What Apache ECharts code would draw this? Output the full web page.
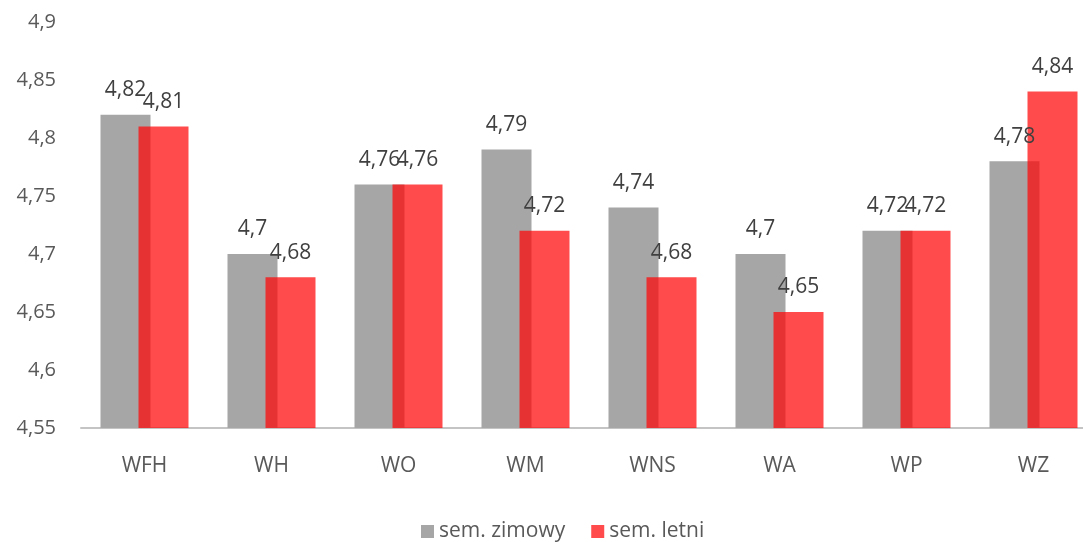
<!DOCTYPE html>
<html>
<head>
<meta charset="utf-8">
<script src="https://cdn.jsdelivr.net/npm/echarts@6/dist/echarts.min.js"></script>
<style>
html,body{margin:0;padding:0;background:#fff;}
#chart{width:1083px;height:542px;}
</style>
</head>
<body>
<div id="chart"></div>
<script>
const categories = ['WFH', 'WH', 'WO', 'WM', 'WNS', 'WA', 'WP', 'WZ'];
const seriesNames = ['sem. zimowy', 'sem. letni'];
const zimowy = [4.82, 4.70, 4.76, 4.79, 4.74, 4.70, 4.72, 4.78];
const letni = [4.81, 4.68, 4.76, 4.72, 4.68, 4.65, 4.72, 4.84];
const yTicks = { min: 4.55, max: 4.9, step: 0.05 };

const fmt = v => String(+Number(v).toFixed(2)).replace('.', ',');
const FONT = '"Open Sans", "Noto Sans", sans-serif';

const chart = echarts.init(document.getElementById('chart'), null, { renderer: 'canvas' });
const labelStyle = {
  show: true,
  position: 'top',
  distance: 14,
  color: '#404040',
  fontSize: 21,
  fontFamily: FONT,
  formatter: p => fmt(p.value)
};
chart.setOption({
  animation: false,
  backgroundColor: '#ffffff',
  grid: { left: 81, top: 22, width: 1016, bottom: 114, containLabel: false, outerBoundsMode: 'none' },
  legend: {
    data: seriesNames,
    left: 416,
    top: 516,
    itemWidth: 13,
    itemHeight: 13,
    itemGap: 26,
    icon: 'rect',
    textStyle: { color: '#595959', fontSize: 21, fontFamily: FONT, padding: [0, 0, 0, 0] }
  },
  xAxis: {
    type: 'category',
    data: categories,
    axisLine: { show: true, lineStyle: { color: '#c4c4c4', width: 2 } },
    axisTick: { show: false },
    axisLabel: { color: '#595959', fontSize: 21, fontFamily: FONT, margin: 28 }
  },
  yAxis: {
    type: 'value',
    min: yTicks.min,
    max: yTicks.max,
    interval: yTicks.step,
    axisLine: { show: false },
    axisTick: { show: false },
    splitLine: { show: false },
    axisLabel: { color: '#595959', fontSize: 20, fontFamily: FONT, margin: 25, formatter: v => fmt(v) }
  },
  series: [
    {
      name: seriesNames[0],
      type: 'bar',
      data: zimowy,
      barWidth: 50,
      barGap: '-24%',
      itemStyle: { color: '#a6a6a6' },
      label: labelStyle
    },
    {
      name: seriesNames[1],
      type: 'bar',
      data: letni,
      barWidth: 50,
      barGap: '-24%',
      itemStyle: { color: 'rgba(255,5,5,0.72)' },
      label: labelStyle
    }
  ]
});
</script>
</body>
</html>
